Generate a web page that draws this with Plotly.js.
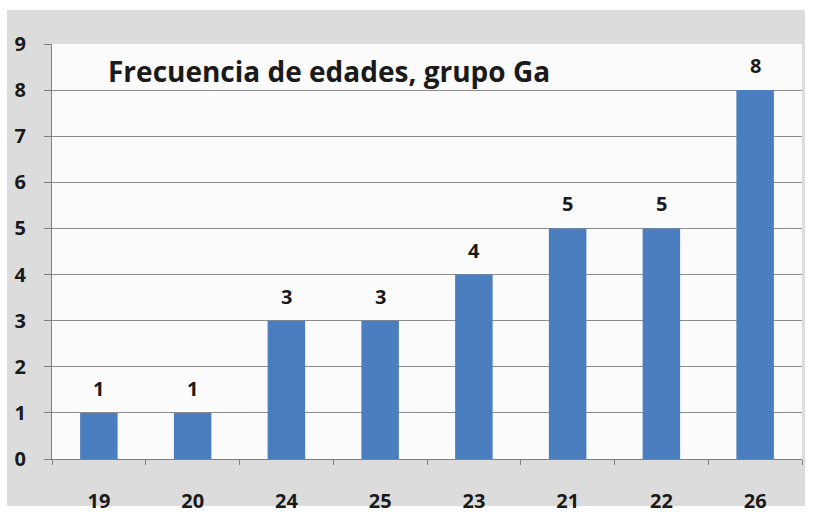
<!DOCTYPE html>
<html><head><meta charset="utf-8">
<script src="https://cdn.plot.ly/plotly-3.0.1.min.js"></script>
<style>
html,body{margin:0;padding:0;background:#ffffff;width:819px;height:514px;overflow:hidden;}
#frame{position:absolute;left:7px;top:10px;width:798px;height:496px;background:#dcdcdc;}
#chart{position:absolute;left:0;top:0;width:819px;height:514px;}
</style></head>
<body><div id="frame"></div><div id="chart"></div>
<script>
const categories = ["19","20","24","25","23","21","22","26"];
const counts = [1,1,3,3,4,5,5,8];
const yTicks = [0,1,2,3,4,5,6,7,8,9];
const chartTitle = "Frecuencia de edades, grupo Ga";

const fontFam = "'Open Sans', 'DejaVu Sans', sans-serif";
const labelFont = {family: fontFam, size: 20, color: "#1a1a1a", weight: "bold"};
const trace = {
  type: "bar",
  x: categories,
  y: counts,
  marker: {color: "#4a7ebf", line: {width: 0}},
  hoverinfo: "none"
};
const valueLabels = categories.map((c, i) => ({
  xref: "x", yref: "y", x: i, y: counts[i],
  xanchor: "center", yanchor: "bottom", yshift: 9,
  showarrow: false, text: String(counts[i]), font: labelFont
}));
const layout = {
  width: 819, height: 514,
  margin: {l: 52, r: 17, t: 44, b: 55},
  paper_bgcolor: "rgba(0,0,0,0)",
  plot_bgcolor: "#fbfbfb",
  showlegend: false,
  bargap: 0.6,
  font: labelFont,
  xaxis: {
    type: "category",
    range: [-0.5, categories.length - 0.5],
    tickson: "boundaries",
    ticks: "outside", ticklen: 5, tickcolor: "#808080",
    showgrid: false,
    showline: true, linecolor: "#808080", linewidth: 1,
    tickfont: labelFont, tickangle: 0,
    ticklabelstandoff: 24
  },
  yaxis: {
    range: [0, 9],
    tickmode: "array", tickvals: yTicks, ticktext: yTicks.map(String),
    ticks: "outside", ticklen: 7, tickcolor: "#808080",
    showgrid: true, gridcolor: "#8c8c8c", gridwidth: 1,
    showline: true, linecolor: "#808080", linewidth: 1,
    zeroline: false,
    tickfont: labelFont,
    ticklabelstandoff: 14
  },
  annotations: [{
    xref: "paper", yref: "paper", x: 0.072, y: 0.935,
    xanchor: "left", yanchor: "middle", showarrow: false,
    text: chartTitle,
    font: {family: fontFam, size: 28, color: "#1a1a1a", weight: "bold"}
  }].concat(valueLabels)
};
Plotly.newPlot("chart", [trace], layout, {staticPlot: true, displayModeBar: false});
</script></body></html>
